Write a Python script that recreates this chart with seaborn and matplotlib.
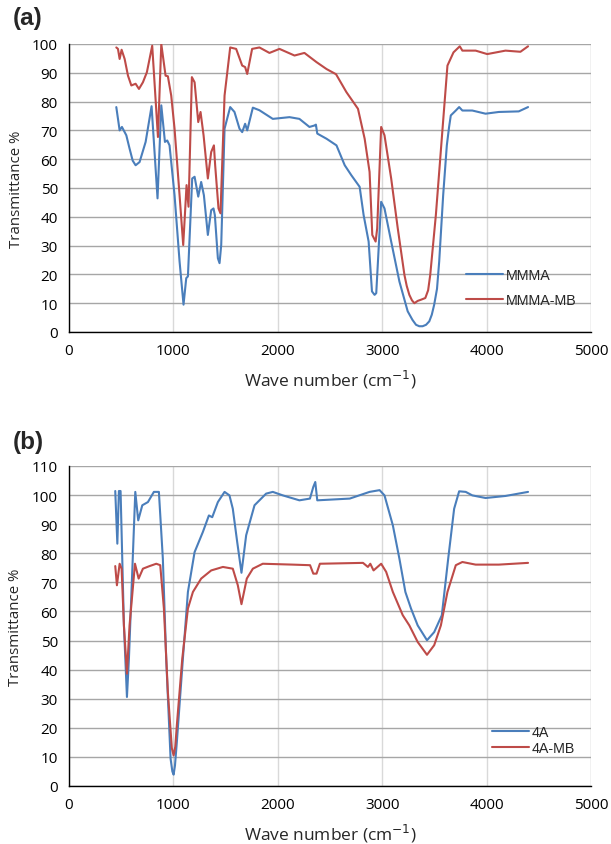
import matplotlib
matplotlib.use("Agg")
import matplotlib.pyplot as plt
import seaborn as sns
import pandas as pd

# ---- Data ----
mmma_wn = [453, 485, 507, 549, 580, 610, 638, 676, 734, 791, 848, 884, 919, 941, 963, 1011, 1059, 1097,
           1123, 1139, 1180, 1203, 1238, 1266, 1292, 1330, 1362, 1384, 1397, 1426, 1442, 1458, 1490,
           1544, 1585, 1633, 1659, 1687, 1707, 1761, 1824, 1952, 2112, 2207, 2303, 2351, 2365, 2378,
           2467, 2562, 2641, 2705, 2784, 2822, 2870, 2902, 2927, 2943, 2990, 3022, 3086, 3165, 3244,
           3290, 3324, 3355, 3387, 3420, 3451, 3475, 3498, 3525, 3546, 3584, 3619, 3640, 3657, 3705,
           3737, 3768, 3863, 3990, 4117, 4308, 4397]
mmma_t = [78.1, 70, 71.2, 68.3, 63.7, 59.5, 57.9, 59, 66, 78.4, 46.4, 78.7, 66, 66.5, 64.8, 47.5, 24.5, 9.5,
          18.7, 19.3, 53.3, 53.9, 47, 52.1, 47.5, 33.7, 42.3, 42.9, 40.6, 25.6, 23.9, 30.2, 70.6,
          78.1, 76.4, 70.6, 69.4, 72.3, 70, 77.9, 77, 74, 74.6, 74, 71.2, 71.7, 72, 68.9,
          67.1, 64.8, 57.9, 54.4, 50.4, 40.6, 31.4, 14.1, 12.9, 13.5, 45.2, 42.9, 31.4, 17.5, 7.2,
          4.2, 2.5, 2.0, 2.0, 2.5, 3.7, 6.0, 9.5, 15.0, 24.5, 47.5, 64.8, 71.0, 75.2, 76.9,
          78.1, 76.9, 76.9, 75.8, 76.4, 76.6, 78.1]

mmma_mb_wn = [453, 469, 485, 504, 533, 565, 597, 638, 670, 708, 746, 797, 852, 884, 925, 947, 979, 1011,
              1059, 1094, 1126, 1145, 1177, 1203, 1238, 1260, 1289, 1330, 1362, 1388, 1400, 1432, 1451,
              1490, 1544, 1601, 1659, 1687, 1707, 1754, 1824, 1920, 2016, 2160, 2255, 2371, 2467, 2558,
              2657, 2768, 2832, 2879, 2905, 2937, 2952, 2990, 3022, 3086, 3149, 3213, 3235, 3260, 3285,
              3308, 3340, 3371, 3413, 3440, 3460, 3514, 3578, 3625, 3683, 3743, 3768, 3895, 4006, 4181,
              4324, 4397]
mmma_mb_t = [98.8, 98.3, 94.8, 98, 94.8, 89, 85.6, 86.2, 84.4, 86.7, 90.2, 99.4, 67.7, 100, 89, 88.8, 82.1, 70.6,
             47.5, 30.2, 51, 43.5, 88.5, 86.7, 72.9, 76.4, 68.3, 53.3, 62.5, 64.8, 57.9, 42.9, 41.2,
             82.1, 98.8, 98.3, 92.5, 92, 89.6, 98.3, 98.8, 96.9, 98.3, 96, 96.9, 93.7, 91.3, 89.5,
             83.3, 77.5, 67.1, 55.6, 33.7, 31.4, 36, 71.2, 68.3, 53.3, 36, 19.8, 16.0, 12.9, 11.0,
             10, 10.8, 11.2, 11.8, 14.5, 19.8, 40.6, 70.6, 92.5, 97.1, 99.2, 97.7, 97.7, 96.5, 97.7,
             97.3, 99.2]

a4_wn = [443, 463, 478, 494, 526, 555, 574, 635, 663, 702, 756, 813, 861, 899, 931, 973, 990, 1002, 1015, 1033,
         1091, 1139, 1203, 1282, 1340, 1372, 1426, 1490, 1537, 1569, 1611, 1652, 1697, 1777, 1888,
         1952, 2048, 2207, 2308, 2340, 2359, 2378, 2689, 2879, 2975, 3022, 3102, 3165, 3222, 3276,
         3340, 3429, 3498, 3571, 3632, 3689, 3737, 3800, 3863, 3990, 4181, 4397]
a4_t = [101.4, 83.3, 101.4, 101.4, 55.2, 30.6, 43.8, 101.1, 91.3, 96.5, 97.6, 101.1, 101.1, 78.1, 43.8, 9.4, 5.0, 3.9, 7.0, 15.1,
        43.8, 66.7, 80.4, 87.3, 93, 92.4, 97.6, 101.1, 99.9, 95.3, 83.9, 73.3, 86.2, 96.5, 100.5,
        101.1, 99.9, 98.2, 98.8, 102.8, 104.5, 98.2, 98.8, 101.1, 101.7, 99.9, 89.6, 78.1, 66.7, 61,
        55.2, 50.1, 52.9, 58.7, 78.1, 95.3, 101.3, 101.1, 99.9, 99, 99.7, 101.1]

a4_mb_wn = [443, 459, 485, 504, 526, 555, 580, 632, 667, 708, 772, 836, 874, 909, 947, 985, 1002, 1018, 1033, 1085,
            1139, 1187, 1266, 1362, 1474, 1569, 1617, 1652, 1703, 1761, 1856, 2144, 2309, 2340, 2371,
            2403, 2816, 2863, 2886, 2917, 2990, 3038, 3102, 3197, 3260, 3340, 3429, 3498, 3562, 3625,
            3705, 3768, 3895, 4117, 4397]
a4_mb_t = [75.6, 69, 76.4, 74.7, 55.2, 38.6, 55.2, 76.4, 71.3, 74.7, 75.6, 76.4, 75.9, 61, 32.3, 13.0, 10.5, 13.5, 20.9, 43.8,
           61, 66.7, 71.3, 74.1, 75.3, 74.7, 69, 62.5, 71.3, 74.7, 76.4, 76.1, 75.9, 73, 73,
           76.4, 76.7, 75.3, 76.4, 74.1, 76.4, 73.6, 66.7, 58.7, 55.2, 49.5, 45.1, 48.4, 55.2, 66.7,
           75.9, 77, 76.1, 76.1, 76.7]

x_ticks = [0, 1000, 2000, 3000, 4000, 5000]
ya_ticks = list(range(0, 101, 10))
yb_ticks = list(range(0, 111, 10))

BLUE = "#4a7ebb"
RED = "#be4b48"

df_a = pd.concat([
    pd.DataFrame({"wn": mmma_wn, "T": mmma_t, "sample": "MMMA"}),
    pd.DataFrame({"wn": mmma_mb_wn, "T": mmma_mb_t, "sample": "MMMA-MB"}),
])
df_b = pd.concat([
    pd.DataFrame({"wn": a4_wn, "T": a4_t, "sample": "4A"}),
    pd.DataFrame({"wn": a4_mb_wn, "T": a4_mb_t, "sample": "4A-MB"}),
])

sns.set_style("white")
plt.rcParams["font.family"] = ["Open Sans", "DejaVu Sans"]

fig = plt.figure(figsize=(6.11, 8.45), dpi=100)
ax_a = fig.add_axes([69 / 611, 1 - 333 / 845, 522 / 611, 288 / 845])
ax_b = fig.add_axes([69 / 611, 1 - 787 / 845, 522 / 611, 320 / 845])


def style(ax, df, yticks, ymax, names, leg_xy, spacing):
    sns.lineplot(data=df, x="wn", y="T", hue="sample", estimator=None, sort=False,
                 palette={names[0]: BLUE, names[1]: RED}, linewidth=1.5, ax=ax)
    ax.set_xlim(0, 5000)
    ax.set_ylim(0, ymax)
    ax.set_xticks(x_ticks)
    ax.set_yticks(yticks)
    ax.tick_params(axis="both", labelsize=11, colors="black", direction="inout",
                   length=8, width=1)
    ax.tick_params(axis="y", pad=4)
    ax.tick_params(axis="x", pad=4)
    ax.yaxis.grid(True, color="#a6a6a6", linewidth=1.0)
    ax.xaxis.grid(True, color="#d9d9d9", linewidth=1.0)
    ax.set_axisbelow(True)
    for s in ["top", "right"]:
        ax.spines[s].set_visible(False)
    for s in ["left", "bottom"]:
        ax.spines[s].set_color("black")
        ax.spines[s].set_linewidth(1.0)
    ax.axvline(5000, color="#d9d9d9", linewidth=1.0, zorder=0)
    ax.set_ylabel("Transmittance %", fontsize=10.8, labelpad=6)
    ax.set_xlabel("Wave number (cm$^{-1}$)", fontsize=12.5, labelpad=7)
    leg = ax.legend(loc="center left", bbox_to_anchor=leg_xy, bbox_transform=fig.transFigure,
                    frameon=False, borderpad=0, borderaxespad=0,
                    prop={"family": "Liberation Sans", "size": 10.3},
                    handlelength=2.6, handletextpad=0.2, labelspacing=spacing)
    for ln in leg.get_lines():
        ln.set_linewidth(1.5)


style(ax_a, df_a, ya_ticks, 100, ["MMMA", "MMMA-MB"],
      (466 / 611, 1 - 288.5 / 845), 0.8)
style(ax_b, df_b, yb_ticks, 110, ["4A", "4A-MB"],
      (492 / 611, 1 - 741 / 845), 0.2)

fig.text(13 / 611, 1 - 19 / 845, "(a)", fontsize=17.5, fontweight="bold",
         family="Liberation Sans", va="center", ha="left")
fig.text(13 / 611, 1 - 443 / 845, "(b)", fontsize=17.5, fontweight="bold",
         family="Liberation Sans", va="center", ha="left")

fig.savefig("out.png", dpi=100)
